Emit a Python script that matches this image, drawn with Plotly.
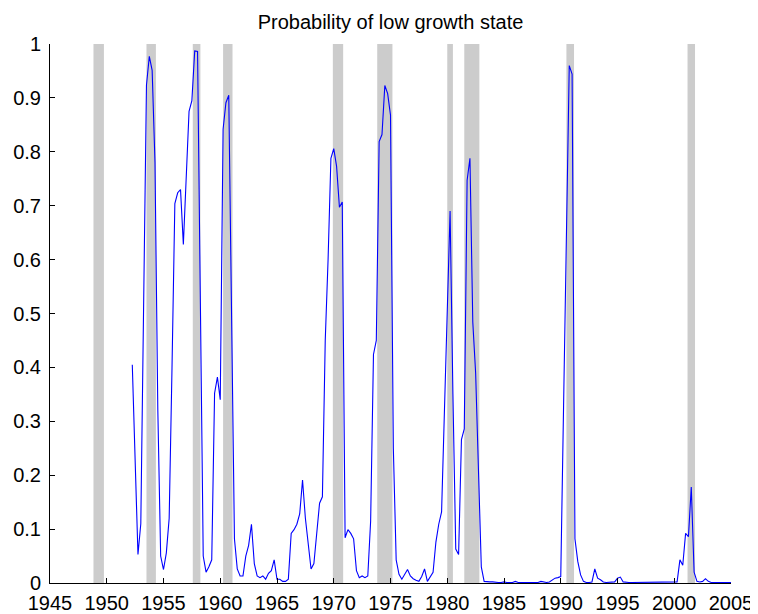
import plotly.graph_objects as go

# Quarterly dates: 1952Q2 .. 2005Q1
start_year = 1952.25

prob_low_growth = [
    0.405, 0.22, 0.053, 0.11, 0.5, 0.924, 0.977, 0.951, 0.78, 0.32,
    0.05, 0.025, 0.056, 0.12, 0.4, 0.704, 0.724, 0.73, 0.628, 0.75,
    0.875, 0.895, 0.987, 0.986, 0.52, 0.05, 0.02, 0.03, 0.043, 0.352,
    0.382, 0.34, 0.842, 0.891, 0.905, 0.45, 0.082, 0.026, 0.013, 0.013,
    0.05, 0.07, 0.109, 0.036, 0.013, 0.01, 0.013, 0.007, 0.018, 0.023,
    0.043, 0.007, 0.007, 0.003, 0.003, 0.007, 0.092, 0.099, 0.109, 0.128,
    0.191, 0.12, 0.07, 0.026, 0.036, 0.1, 0.148, 0.16, 0.45, 0.6,
    0.788, 0.806, 0.773, 0.697, 0.707, 0.084, 0.099, 0.092, 0.082, 0.023,
    0.01, 0.013, 0.01, 0.013, 0.115, 0.424, 0.45, 0.819, 0.832, 0.923,
    0.908, 0.868, 0.25, 0.043, 0.016, 0.007, 0.015, 0.025, 0.013, 0.008,
    0.005, 0.003, 0.012, 0.026, 0.003, 0.011, 0.02, 0.076, 0.109, 0.132,
    0.318, 0.504, 0.69, 0.35, 0.063, 0.053, 0.266, 0.286, 0.747, 0.788,
    0.484, 0.39, 0.2, 0.03, 0.003,
    0.002, 0.002, 0.002, 0.001, 0.001, 0.001, 0.002, 0.001, 0.001, 0.001,
    0.003, 0.001, 0.001, 0.001, 0.001, 0.002, 0.001, 0.001, 0.001, 0.003,
    0.002, 0.001, 0.002, 0.005, 0.009, 0.01,
    0.012, 0.33, 0.64, 0.96, 0.944, 0.082, 0.04, 0.015, 0.003, 0.001,
    0.001, 0.002, 0.026, 0.009, 0.006, 0.002, 0.001, 0.001, 0.001, 0.002,
    0.009, 0.011, 0.002,
    0.001, 0.001, 0.001, 0.001, 0.001, 0.001, 0.001, 0.001, 0.001, 0.001,
    0.001, 0.001, 0.001, 0.001, 0.001, 0.001, 0.001, 0.001,
    0.002, 0.043, 0.033, 0.092, 0.086, 0.178, 0.02, 0.003, 0.002, 0.003,
    0.008, 0.003, 0.001, 0.001, 0.001, 0.001, 0.001, 0.001, 0.001, 0.001,
]

dates = [start_year + 0.25 * i for i in range(len(prob_low_growth))]

# NBER recession periods (decimal years)
recession_start = [1948.83, 1953.5, 1957.58, 1960.25, 1969.92, 1973.83, 1980.0, 1981.5, 1990.5, 2001.17]
recession_end = [1949.75, 1954.33, 1958.25, 1961.08, 1970.83, 1975.17, 1980.5, 1982.83, 1991.17, 2001.83]

x_ticks = list(range(1945, 2006, 5))
y_ticks = [round(0.1 * i, 1) for i in range(11)]
y_tick_text = ["0", "0.1", "0.2", "0.3", "0.4", "0.5", "0.6", "0.7", "0.8", "0.9", "1"]

fig = go.Figure()

for s, e in zip(recession_start, recession_end):
    fig.add_shape(type="rect", xref="x", yref="y", x0=s, x1=e, y0=0, y1=1,
                  fillcolor="#cccccc", line=dict(width=0), layer="below")

fig.add_trace(go.Scatter(x=dates, y=prob_low_growth, mode="lines",
                         line=dict(color="#0000ff", width=1.1),
                         showlegend=False, hoverinfo="x+y"))

font_family = "Liberation Sans, Arial, sans-serif"

# The page has an 8px body margin, so the figure is sized to fit the window.
fig.update_layout(
    width=750, height=606,
    margin=dict(l=42, r=27, t=36, b=31),
    paper_bgcolor="white", plot_bgcolor="white",
    title=dict(text="Probability of low growth state", x=0.5, xref="paper",
               y=1 - 14 / 606, yref="container", xanchor="center", yanchor="middle",
               font=dict(family=font_family, size=20, color="black")),
    font=dict(family=font_family, size=20, color="black"),
    xaxis=dict(range=[1945, 2005], tickmode="array", tickvals=x_ticks,
               ticks="inside", ticklen=5, tickcolor="black", showline=True,
               linecolor="black", linewidth=1, showgrid=False, zeroline=False,
               mirror=False, tickfont=dict(size=20), ticklabelstandoff=2,
               automargin=False),
    yaxis=dict(range=[0, 1], tickmode="array", tickvals=y_ticks, ticktext=y_tick_text,
               ticks="inside", ticklen=5, tickcolor="black", showline=True,
               linecolor="black", linewidth=1, showgrid=False, zeroline=False,
               mirror=False, tickfont=dict(size=20), ticklabelstandoff=4,
               automargin=False),
)

fig.write_html("out.html")
